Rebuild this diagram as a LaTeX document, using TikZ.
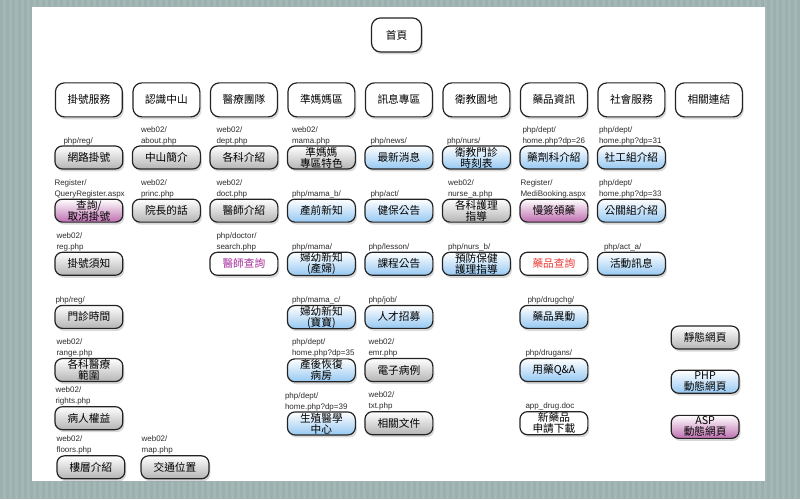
\documentclass[tikz,border=0pt]{standalone}
\usepackage{fontspec}
\setmainfont{Liberation Sans}
\newfontfamily\cjk{Noto Sans CJK TC}
\usepackage{tikz}
\usetikzlibrary{positioning,shadows}
\definecolor{bgteal}   {RGB}{163,183,181}
\definecolor{bgstripe} {RGB}{156,177,175}
\definecolor{boxline}  {RGB}{ 35, 35, 35}
\definecolor{grayend}  {RGB}{180,180,180}
\definecolor{blueend}  {RGB}{150,200,242}
\definecolor{pinkend}  {RGB}{190,110,176}
\definecolor{linkpurple}{RGB}{165, 45,155}
\definecolor{linkred}  {RGB}{235, 55, 55}
\definecolor{urltext}  {RGB}{ 45, 45, 45}
\tikzset{
  box/.style={draw=boxline,line width=1.2pt,rounded corners=7.5pt,fill=white,
              minimum width=68pt,minimum height=23pt,inner sep=0.5pt,
              align=center,font=\cjk\fontsize{10.7}{11}\selectfont,
              drop shadow={shadow xshift=1.5pt,shadow yshift=-2.5pt,
              opacity=0.3}},
  menu/.style={box,minimum width=67pt,minimum height=34pt,rounded corners=9pt},
  static/.style={box,top color=white,bottom color=grayend},
  php/.style={box,top color=white,bottom color=blueend},
  asp/.style={box,top color=white,bottom color=pinkend},
  plain/.style={box},
  url/.style={anchor=south west,inner sep=0pt,align=left,yshift=0.5pt,
              font=\fontsize{8}{11}\selectfont,text=urltext},
}
\newcommand{\pageurl}[3][0pt]{\node[url] (#2-url) at ([xshift=#1]#2.north west) {#3};}

\begin{document}
\begin{tikzpicture}[x=1pt,y=-1pt]
  % backdrop
  \fill[bgteal] (0,0) rectangle (800,500);
  \foreach \sx in {0,6,...,798} \fill[bgstripe] (\sx,0) rectangle ++(3,500);
  \fill[white] (32,7) rectangle (766,482);
  \useasboundingbox (0,0) rectangle (800,500);

  % home and menu row
  \node[menu,minimum width=50pt] (home) at (397,35) {首頁};
  \node[menu]                    (reg)    at (89,100) {掛號服務};
  \node[menu,right=9.4pt of reg]    (about)  {認識中山};
  \node[menu,right=9.4pt of about]  (team)   {醫療團隊};
  \node[menu,right=9.4pt of team]   (mama)   {準媽媽區};
  \node[menu,right=9.4pt of mama]   (news)   {訊息專區};
  \node[menu,right=9.4pt of news]   (edu)    {衛教園地};
  \node[menu,right=9.4pt of edu]    (drug)   {藥品資訊};
  \node[menu,right=9.4pt of drug]   (social) {社會服務};
  \node[menu,right=9.4pt of social] (links)  {相關連結};

  % 掛號服務
  \node[static,below=28pt of reg]  (reg1) {網路掛號};
  \node[asp,below=29pt of reg1]    (reg2) {查詢/\\取消掛號};
  \node[static,below=29pt of reg2] (reg3) {掛號須知};
  \node[static,below=29pt of reg3] (reg4) {門診時間};
  \node[static,below=29pt of reg4] (reg5) {各科醫療\\範圍};
  \node[static,below=24pt of reg5] (reg6) {病人權益};
  \node[static,below=25pt of reg6,xshift=2pt] (reg7) {樓層介紹};

  % 認識中山
  \node[static,below=28pt of about]  (about1) {中山簡介};
  \node[static,below=29pt of about1] (about2) {院長的話};
  \node[static,right=15pt of reg7]   (about3) {交通位置};

  % 醫療團隊
  \node[static,below=28pt of team]  (team1) {各科介紹};
  \node[static,below=29pt of team1] (team2) {醫師介紹};
  \node[plain,text=linkpurple,below=29pt of team2] (team3) {醫師查詢};

  % 準媽媽區
  \node[static,below=28pt of mama] (mama1) {準媽媽\\專區特色};
  \node[php,below=29pt of mama1]   (mama2) {產前新知};
  \node[php,below=29pt of mama2]   (mama3) {婦幼新知\\(產婦)};
  \node[php,below=29pt of mama3]   (mama4) {婦幼新知\\(寶寶)};
  \node[php,below=29pt of mama4]   (mama5) {產後恢復\\病房};
  \node[php,below=29pt of mama5]   (mama6) {生殖醫學\\中心};

  % 訊息專區
  \node[php,below=28pt of news]    (news1) {最新消息};
  \node[php,below=29pt of news1]   (news2) {健保公告};
  \node[php,below=29pt of news2]   (news3) {課程公告};
  \node[php,below=29pt of news3]   (news4) {人才招募};
  \node[static,below=29pt of news4] (news5) {電子病例};
  \node[static,below=29pt of news5] (news6) {相關文件};

  % 衛教園地
  \node[php,below=28pt of edu]     (edu1) {衛教門診\\時刻表};
  \node[static,below=29pt of edu1] (edu2) {各科護理\\指導};
  \node[php,below=29pt of edu2]    (edu3) {預防保健\\護理指導};

  % 藥品資訊
  \node[php,below=28pt of drug]    (drug1) {藥劑科介紹};
  \node[asp,below=29pt of drug1]   (drug2) {慢簽領藥};
  \node[plain,text=linkred,below=29pt of drug2] (drug3) {藥品查詢};
  \node[php,below=29pt of drug3]   (drug4) {藥品異動};
  \node[php,below=29pt of drug4]   (drug5) {用藥Q\&A};
  \node[plain,below=29pt of drug5] (drug6) {新藥品\\申請下載};

  % 社會服務
  \node[php,below=28pt of social]  (social1) {社工組介紹};
  \node[php,below=29pt of social1] (social2) {公關組介紹};
  \node[php,below=29pt of social2] (social3) {活動訊息};

  % legend
  \node[static] (legstatic) at (706,338) {靜態網頁};
  \node[php,below=20pt of legstatic] (legphp) {PHP\\動態網頁};
  \node[asp,below=21pt of legphp]    (legasp) {ASP\\動態網頁};

  % page addresses
  \pageurl[9pt]{reg1}{php/reg/}
  \pageurl[0pt]{reg2}{Register/\\QueryRegister.aspx}
  \pageurl[2pt]{reg3}{web02/\\reg.php}
  \pageurl[1pt]{reg4}{php/reg/}
  \pageurl[2pt]{reg5}{web02/\\range.php}
  \pageurl[1pt]{reg6}{web02/\\rights.php}
  \pageurl[0pt]{reg7}{web02/\\floors.php}
  \pageurl[9pt]{about1}{web02/\\about.php}
  \pageurl[9pt]{about2}{web02/\\princ.php}
  \pageurl[1pt]{about3}{web02/\\map.php}
  \pageurl[7pt]{team1}{web02/\\dept.php}
  \pageurl[7pt]{team2}{web02/\\doct.php}
  \pageurl[7pt]{team3}{php/doctor/\\search.php}
  \pageurl[5pt]{mama1}{web02/\\mama.php}
  \pageurl[5pt]{mama2}{php/mama\_b/}
  \pageurl[5pt]{mama3}{php/mama/}
  \pageurl[5pt]{mama4}{php/mama\_c/}
  \pageurl[5pt]{mama5}{php/dept/\\home.php?dp=35}
  \pageurl[-2pt]{mama6}{php/dept/\\home.php?dp=39}
  \pageurl[6pt]{news1}{php/news/}
  \pageurl[6pt]{news2}{php/act/}
  \pageurl[4pt]{news3}{php/lesson/}
  \pageurl[4pt]{news4}{php/job/}
  \pageurl[4pt]{news5}{web02/\\emr.php}
  \pageurl[4pt]{news6}{web02/\\txt.php}
  \pageurl[5pt]{edu1}{php/nurs/}
  \pageurl[6pt]{edu2}{web02/\\nurse\_a.php}
  \pageurl[6pt]{edu3}{php/nurs\_b/}
  \pageurl[3pt]{drug1}{php/dept/\\home.php?dp=26}
  \pageurl[1pt]{drug2}{Register/\\MediBooking.aspx}
  \pageurl[8pt]{drug4}{php/drugchg/}
  \pageurl[6pt]{drug5}{php/drugans/}
  \pageurl[6pt]{drug6}{app\_drug.doc}
  \pageurl[2pt]{social1}{php/dept/\\home.php?dp=31}
  \pageurl[2pt]{social2}{php/dept/\\home.php?dp=33}
  \pageurl[7pt]{social3}{php/act\_a/}
\end{tikzpicture}
\end{document}
